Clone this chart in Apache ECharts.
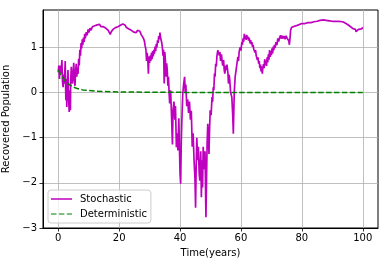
<!DOCTYPE html>
<html><head><meta charset="utf-8">
<script src="https://cdn.jsdelivr.net/npm/echarts@6/dist/echarts.min.js"></script>
<style>html,body{margin:0;padding:0;background:#fff}#c{width:388px;height:266px}</style>
</head><body><div id="c"></div>
<script>
const xTicks = [0, 20, 40, 60, 80, 100];
const yTicks = [-3, -2, -1, 0, 1];
// [time, value] pairs
const stochastic = [[0,0.45],[0.2,0.6],[0.4,0.3],[0.6,0.6],[0.8,0.42],[1.0,0.5],[1.2,0.72],[1.4,0.25],[1.6,0.12],[1.8,0.4],[2.0,0.2],[2.3,0.7],[2.5,-0.17],[2.7,0.3],[2.8,-0.32],[3.0,0.1],[3.2,0.5],[3.4,-0.1],[3.6,-0.43],[3.8,0.05],[4.0,-0.39],[4.1,0.3],[4.3,0.57],[4.5,0.3],[4.7,0.2],[4.9,0.45],[5.1,0.66],[5.3,0.3],[5.5,0.15],[5.7,0.45],[5.9,0.64],[6.1,0.35],[6.3,0.55],[6.5,0.41],[6.7,0.75],[6.9,0.6],[7.1,0.95],[7.3,0.82],[7.5,1.1],[7.7,0.98],[7.9,1.18],[8.1,1.06],[8.3,1.22],[8.5,1.12],[8.7,1.3],[8.9,1.2],[9.2,1.34],[9.5,1.27],[9.8,1.4],[10.1,1.33],[10.4,1.43],[10.8,1.38],[11.2,1.46],[11.6,1.42],[12.0,1.48],[12.4,1.45],[12.8,1.5],[13.2,1.47],[13.6,1.51],[14.0,1.46],[14.4,1.5],[14.8,1.46],[15.2,1.49],[15.6,1.43],[16.0,1.45],[16.4,1.38],[16.8,1.35],[17.1,1.29],[17.4,1.35],[17.7,1.32],[18.0,1.4],[18.4,1.41],[18.8,1.44],[19.2,1.42],[19.6,1.46],[20.0,1.44],[20.4,1.49],[20.8,1.47],[21.2,1.52],[21.6,1.49],[22.0,1.49],[22.4,1.44],[22.8,1.46],[23.2,1.41],[23.6,1.44],[24.0,1.38],[24.4,1.41],[24.8,1.34],[25.2,1.37],[25.6,1.33],[26.0,1.38],[26.4,1.34],[26.8,1.36],[27.2,1.29],[27.6,1.32],[28.0,1.2],[28.3,1.14],[28.5,1.05],[28.8,0.95],[29.0,0.7],[29.2,0.88],[29.4,0.75],[29.6,0.42],[29.8,0.8],[30.0,0.66],[30.2,0.82],[30.4,0.7],[30.6,0.88],[30.8,0.74],[31.0,0.92],[31.2,0.8],[31.4,0.95],[31.6,0.86],[31.8,1.02],[32.0,0.92],[32.2,1.08],[32.4,1.0],[32.6,1.16],[32.8,1.1],[33.0,1.25],[33.2,1.18],[33.4,1.33],[33.6,1.22],[33.8,1.26],[34.0,1.1],[34.2,1.0],[34.4,0.82],[34.6,0.95],[34.8,0.2],[35.0,0.9],[35.2,0.7],[35.4,0.35],[35.6,0.65],[35.8,0.5],[36.0,0.15],[36.2,0.35],[36.4,0.0],[36.6,-0.24],[36.9,0.05],[37.2,-0.5],[37.5,-1.15],[37.7,-0.4],[38.0,-0.2],[38.3,-0.6],[38.5,-0.3],[38.8,-1.21],[39.0,-0.9],[39.3,-1.28],[39.6,-0.57],[39.8,-1.2],[40.0,-1.8],[40.2,-2.02],[40.4,-1.1],[40.6,-0.6],[40.9,-0.02],[41.2,0.2],[41.5,0.35],[41.7,0.0],[41.9,0.18],[42.2,-0.3],[42.5,-0.15],[42.8,-0.45],[43.1,-0.2],[43.4,-0.6],[43.7,-0.4],[44.0,-1.2],[44.3,-0.9],[44.6,-1.5],[44.9,-1.9],[45.1,-2.55],[45.3,-1.6],[45.5,-1.0],[45.8,-1.5],[46.0,-1.2],[46.3,-1.8],[46.5,-1.95],[46.8,-1.3],[47.0,-2.32],[47.2,-1.5],[47.4,-2.1],[47.6,-1.2],[47.9,-1.7],[48.2,-1.3],[48.5,-2.76],[48.7,-1.9],[48.9,-1.1],[49.1,-0.69],[49.3,-1.0],[49.5,-1.36],[49.7,-0.8],[49.9,-0.39],[50.2,-0.5],[50.5,-0.1],[50.7,-0.2],[50.9,0.12],[51.1,0.05],[51.3,0.42],[51.5,0.35],[51.7,0.64],[51.9,0.58],[52.1,0.8],[52.4,0.94],[52.7,0.98],[52.9,0.82],[53.1,0.9],[53.3,0.7],[53.6,0.85],[53.8,0.7],[54.0,0.6],[54.3,0.72],[54.5,0.5],[54.7,0.42],[55.0,0.6],[55.2,0.5],[55.4,0.62],[55.7,0.45],[55.9,0.2],[56.1,0.4],[56.3,0.3],[56.6,0.0],[57.0,-0.1],[57.3,-0.5],[57.5,-0.91],[57.8,0.0],[58.1,0.35],[58.4,0.5],[58.7,0.65],[59.0,0.79],[59.2,0.7],[59.4,0.9],[59.7,1.0],[60.0,0.93],[60.3,1.12],[60.5,1.06],[60.7,1.2],[60.9,1.13],[61.1,1.3],[61.3,1.19],[61.5,1.26],[61.7,1.17],[61.9,1.28],[62.1,1.19],[62.3,1.24],[62.5,1.15],[62.7,1.22],[63.0,1.09],[63.2,1.16],[63.4,1.07],[63.6,1.12],[63.8,1.01],[64.0,1.06],[64.2,0.96],[64.4,1.0],[64.6,0.89],[64.8,0.94],[65.0,0.82],[65.2,0.86],[65.4,0.72],[65.6,0.78],[65.8,0.64],[66.0,0.7],[66.2,0.54],[66.4,0.62],[66.6,0.47],[66.8,0.58],[67.0,0.42],[67.2,0.55],[67.4,0.63],[67.6,0.54],[67.8,0.74],[68.0,0.61],[68.2,0.71],[68.4,0.59],[68.6,0.78],[68.8,0.67],[69.0,0.85],[69.2,0.73],[69.4,0.94],[69.6,0.79],[69.8,0.92],[70.0,0.83],[70.2,0.98],[70.4,0.87],[70.6,1.02],[70.8,0.94],[71.0,1.06],[71.2,0.99],[71.5,1.12],[71.8,1.05],[72.1,1.2],[72.4,1.13],[72.7,1.22],[73.0,1.27],[73.3,1.19],[73.6,1.26],[73.9,1.2],[74.2,1.25],[74.5,1.18],[74.8,1.26],[75.1,1.21],[75.4,1.24],[75.7,1.15],[75.9,1.06],[76.1,1.2],[76.3,1.38],[76.6,1.44],[77.0,1.48],[77.5,1.47],[78,1.5],[78.5,1.49],[79,1.51],[80,1.53],[81,1.53],[82,1.55],[83,1.55],[84,1.57],[85,1.58],[86,1.6],[87,1.61],[88,1.6],[89,1.59],[90,1.58],[91,1.58],[92,1.58],[93.4,1.57],[94.2,1.54],[95,1.51],[95.5,1.49],[96,1.46],[96.4,1.44],[96.7,1.42],[97.0,1.41],[97.3,1.38],[97.6,1.4],[97.8,1.35],[98.1,1.39],[98.3,1.34],[98.6,1.4],[98.9,1.37],[99.2,1.42],[99.6,1.41],[100,1.45]];
const detT = [0,1,2,3,4,5,6,7,8,10,12,15,20,30,40,60,80,100];
const detV = [0.5,0.38,0.28,0.21,0.16,0.12,0.095,0.075,0.06,0.045,0.035,0.025,0.015,0.008,0.005,0.003,0.002,0.001];

const fmt = v => (v < 0 ? '\u2212' + Math.abs(v) : String(v));
const font = 'DejaVu Sans';
const chart = echarts.init(document.getElementById('c'), null, {renderer: 'canvas'});
chart.setOption({
  animation: false,
  grid: {left: 43, right: 10, top: 10, bottom: 38, containLabel: false, outerBoundsMode: 'none',
         show: true, borderColor: '#000', borderWidth: 1, backgroundColor: 'transparent'},
  xAxis: {
    type: 'value', min: -5, max: 105,
    name: 'Time(years)', nameLocation: 'middle', nameGap: 20,
    nameTextStyle: {fontFamily: font, fontSize: 10, color: '#000'},
    axisLine: {show: true, onZero: false, lineStyle: {color: '#000', width: 1}},
    axisTick: {show: true, inside: false, length: 3.5, lineStyle: {color: '#000', width: 0.8}, customValues: xTicks},
    axisLabel: {fontFamily: font, fontSize: 10, color: '#000', margin: 5, formatter: fmt, customValues: xTicks},
    splitLine: {show: true, lineStyle: {color: '#b0b0b0', width: 0.8}}
  },
  yAxis: {
    type: 'value', min: -3, max: 1.83,
    name: 'Recovered Population', nameLocation: 'middle', nameGap: 23,
    nameTextStyle: {fontFamily: font, fontSize: 10, color: '#000'},
    axisLine: {show: true, onZero: false, lineStyle: {color: '#000', width: 1}},
    axisTick: {show: true, inside: false, length: 3.5, lineStyle: {color: '#000', width: 0.8}, customValues: yTicks},
    axisLabel: {fontFamily: font, fontSize: 10, color: '#000', margin: 6, formatter: fmt, customValues: yTicks},
    splitLine: {show: true, lineStyle: {color: '#b0b0b0', width: 0.8}}
  },
  legend: {
    left: 48, top: 190, orient: 'vertical',
    backgroundColor: 'rgba(255,255,255,0.8)', borderColor: '#cccccc', borderWidth: 1, borderRadius: 3,
    padding: [3, 4, 3, 3], itemWidth: 21, itemHeight: 1.5, itemGap: 3,
    textStyle: {fontFamily: font, fontSize: 10, color: '#000', lineHeight: 12, padding: [0, 0, 0, 3]},
    data: [
      {name: 'Stochastic', icon: 'rect'},
      {name: 'Deterministic', icon: 'path://M0,0 H5.5 V1 H0 Z M7.9,0 H13.4 V1 H7.9 Z M15.8,0 H21 V1 H15.8 Z'}
    ]
  },
  series: [
    {name: 'Stochastic', type: 'line', symbol: 'none', smooth: false,
     lineStyle: {color: '#bf00bf', width: 1.7}, itemStyle: {color: '#bf00bf'},
     data: stochastic, z: 2},
    {name: 'Deterministic', type: 'line', symbol: 'none', smooth: false,
     lineStyle: {color: '#008000', width: 1.5, type: [5.5, 2.4]}, itemStyle: {color: '#008000'},
     data: detT.map((t, i) => [t, detV[i]]), z: 3}
  ]
});
</script></body></html>
